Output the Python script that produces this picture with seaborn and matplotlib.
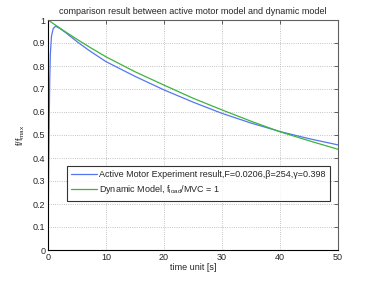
import numpy as np
import pandas as pd
import seaborn as sns
from matplotlib import pyplot as plt

# active motor experiment curve
t_active = [0, 0.1, 0.2, 0.3, 0.4, 0.6, 0.9, 1.3, 2, 3, 5, 7, 10, 15, 20, 25, 30, 35, 40, 45, 50]
f_active = [0, 0.3, 0.55, 0.74, 0.85, 0.93, 0.963, 0.973, 0.964, 0.946, 0.906, 0.869, 0.819,
            0.755, 0.696, 0.643, 0.594, 0.552, 0.515, 0.484, 0.457]

# dynamic model curve
t_dynamic = [0, 2.5, 5, 7.5, 10, 15, 20, 25, 30, 35, 40, 45, 50]
f_dynamic = [1.0, 0.957, 0.916, 0.877, 0.840, 0.775, 0.717, 0.660, 0.609, 0.560, 0.514, 0.475, 0.438]

label_active = 'Active Motor Experiment result,F=0.0206,\u03b2=254,\u03b3=0.398'
label_dynamic = r'Dynamic Model, f$_{\mathrm{load}}$/MVC = 1'

sns.set_style('white')
plt.rcParams['font.family'] = ['Liberation Sans', 'DejaVu Sans']
plt.rcParams['mathtext.fontset'] = 'custom'
plt.rcParams['mathtext.rm'] = 'Liberation Sans'
plt.rcParams['mathtext.it'] = 'Liberation Sans'

fig = plt.figure(figsize=(3.74, 2.81), dpi=100)
ax = fig.add_axes([48 / 374, 31 / 281, 290 / 374, 230 / 281])

df_a = pd.DataFrame({'t': t_active, 'f': f_active})
df_d = pd.DataFrame({'t': t_dynamic, 'f': f_dynamic})
sns.lineplot(data=df_a, x='t', y='f', ax=ax, color='#5575f2', lw=0.9, label=label_active)
sns.lineplot(data=df_d, x='t', y='f', ax=ax, color='#3cb43c', lw=0.9, label=label_dynamic)

ax.set_xlim(0, 50)
ax.set_ylim(0, 1)
ax.set_xticks(np.arange(0, 51, 10))
ax.set_yticks(np.arange(0, 1.01, 0.1))
ax.set_yticklabels(['0', '0.1', '0.2', '0.3', '0.4', '0.5', '0.6', '0.7', '0.8', '0.9', '1'])
ax.grid(True, ls=':', color='#b0b0b0', lw=0.6)
ax.tick_params(direction='in', top=True, right=True, labelsize=6.5, length=3, width=0.5, pad=2)
for s in ax.spines.values():
    s.set_color('black')
    s.set_linewidth(0.8)
ax.spines['top'].set_color('#606060')
ax.spines['right'].set_color('#606060')

ax.set_xlabel('time unit [s]', fontsize=6.5, labelpad=1)
ax.set_ylabel(r'f/f$_{\mathrm{max}}$', fontsize=6.5, labelpad=4)
ax.set_title('comparison result between active motor model and dynamic model', fontsize=6.5, pad=4)

leg = ax.legend(loc='lower left', bbox_to_anchor=(0.065, 0.215), fontsize=6.5, frameon=True,
                fancybox=False, edgecolor='black', handlelength=2.8, borderpad=0.5,
                labelspacing=0.4, handletextpad=0.3, borderaxespad=0.0)
leg.get_frame().set_linewidth(0.8)

fig.savefig('out.png', dpi=100)
